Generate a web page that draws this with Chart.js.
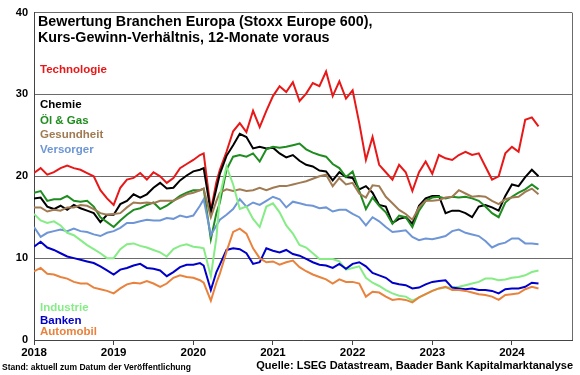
<!DOCTYPE html>
<html lang="de">
<head>
<meta charset="utf-8">
<title>Bewertung Branchen Europa</title>
<script src="https://cdn.jsdelivr.net/npm/chart.js@4.4.1/dist/chart.umd.min.js"></script>
<style>
html, body { margin: 0; padding: 0; background: #fff; }
canvas { display: block; }
</style>
</head>
<body>
<canvas id="kgvChart" width="580" height="375"></canvas>
<script>
// KGV 12 Monate voraus, Stoxx Europe 600 Branchen - Monatswerte, Corona-Einbruch etwas feiner
const dates = [];
for (let m = 0; m <= 76; m++) dates.push(2018 + m / 12);
dates.splice(26, 2, 2020.13, 2020.22, 2020.29);

const technologie = [20.4, 21.0, 20.2, 20.5, 21.0, 21.3, 21.0, 20.8, 20.4, 20.0, 18.3, 17.3, 16.5,
    18.6, 19.6, 19.8, 20.4, 19.6, 20.5, 20.0, 19.2, 19.8, 21.0, 21.5, 22.0, 22.6,
    22.8, 15.8, 19.3,
    20.8, 23.0, 25.5, 26.5, 25.4, 28.0, 26.0, 28.0, 29.8,
    31.0, 30.3, 31.5, 29.2, 30.1, 31.4, 31.0, 32.8, 29.8, 31.6, 29.5, 30.5,
    26.5, 22.0, 24.8, 21.4, 20.5, 19.6, 21.4, 20.5, 18.2, 20.5, 21.8, 20.3,
    22.6, 22.2, 22.0, 22.6, 23.0, 22.6, 22.8, 21.2, 19.6, 20.0, 22.8, 23.6, 23.0, 26.9, 27.2, 26.1];

const chemie = [17.3, 17.4, 16.3, 16.0, 16.4, 15.9, 16.5, 16.1, 15.8, 15.5, 14.4, 15.3, 15.3,
    16.6, 17.0, 17.8, 17.4, 17.8, 18.6, 19.2, 18.5, 18.6, 19.5, 20.1, 20.6, 20.8,
    21.0, 15.6, 18.5,
    20.3, 22.5, 23.8, 25.2, 24.8, 23.4, 23.6, 23.4, 23.5,
    22.8, 22.3, 22.6, 21.9, 21.4, 21.2, 20.7, 20.6, 19.5, 20.5, 19.9, 19.8,
    18.4, 18.8, 18.0, 16.5, 16.3, 14.3, 14.8, 15.0, 14.2, 16.4, 17.3, 17.6,
    17.6, 15.5, 15.8, 15.8, 15.5, 15.0, 16.3, 16.5, 16.2, 15.8, 17.6, 19.0, 18.8, 19.9, 20.8, 20.0];

const oelGas = [18.0, 18.2, 17.0, 17.2, 17.2, 17.6, 17.0, 16.9, 17.0, 16.3, 15.0, 14.4, 13.8,
    14.6, 15.3, 15.9, 16.1, 16.5, 16.8, 16.0, 16.4, 17.0, 17.6, 18.0, 18.3, 18.3,
    18.5, 12.3, 15.5,
    16.8, 20.8, 22.4, 22.6, 22.4, 22.8, 21.8, 23.3, 23.6,
    23.5, 23.6, 23.8, 24.0, 23.3, 22.9, 22.6, 22.4, 21.5, 21.0, 19.9, 20.6,
    18.2, 16.0, 17.4, 16.4, 15.6, 14.2, 15.2, 15.0, 13.8, 15.8, 17.0, 17.4,
    17.5, 17.3, 17.5, 17.4, 17.5, 17.3, 17.0, 16.3, 15.5, 15.0, 16.8, 17.5, 18.0, 18.4, 19.0, 18.4];

const gesundheit = [16.2, 16.2, 15.7, 15.9, 15.8, 16.2, 16.2, 16.5, 16.4, 16.0, 15.5, 15.3, 15.4,
    15.5, 16.2, 16.8, 16.7, 16.8, 16.7, 17.0, 17.0, 17.0, 17.4, 17.8, 18.0, 18.3,
    18.5, 15.0, 17.0,
    18.0, 18.4, 18.2, 18.4, 18.2, 18.3, 18.6, 18.3, 18.6,
    18.8, 18.8, 19.0, 19.2, 19.4, 19.7, 20.0, 20.2, 18.8, 19.8, 19.0, 19.2,
    17.9, 17.4, 18.9, 18.8, 17.5, 16.7, 15.9, 15.4, 14.7, 16.2, 17.0, 17.0,
    17.1, 17.4, 17.5, 18.3, 17.9, 17.5, 17.6, 17.5, 17.0, 16.6, 17.2, 17.4, 17.5, 18.1, 18.5, 17.8];

const versorger = [13.8, 12.6, 13.1, 13.3, 13.5, 13.3, 13.6, 13.3, 13.2, 12.9, 12.7, 13.1, 13.3,
    13.7, 14.3, 14.3, 14.5, 14.7, 14.6, 14.6, 14.9, 14.8, 15.2, 15.0, 15.2, 16.4,
    17.2, 12.8, 14.0,
    14.7, 15.3, 16.0, 17.2, 16.3, 16.8, 16.5, 17.0, 17.5,
    17.2, 16.2, 16.9, 16.7, 16.5, 16.4, 16.1, 16.2, 15.7, 15.9, 15.9, 15.4,
    15.0, 14.0, 15.0, 14.5, 13.8, 13.2, 13.3, 13.4, 12.6, 12.2, 12.4, 12.3,
    12.5, 12.7, 13.3, 13.5, 13.1, 12.9, 12.7, 12.1, 11.3, 11.7, 11.9, 12.4, 12.4, 11.8, 11.8, 11.7];

const industrie = [15.4, 14.6, 14.3, 14.5, 14.0, 13.1, 12.8, 12.2, 11.6, 11.1, 10.6, 10.0, 10.0,
    11.1, 11.7, 11.8, 11.5, 11.3, 11.0, 10.7, 10.2, 11.1, 11.5, 11.7, 11.4, 11.3,
    11.2, 7.8, 12.5,
    17.6, 21.2, 19.0, 16.0, 16.3, 14.8, 13.8, 16.3, 16.7,
    15.6, 14.0, 13.0, 11.6, 11.3, 10.6, 9.9, 9.9, 9.9, 9.6, 8.6, 8.8,
    9.0, 7.6, 7.0, 6.6, 6.1, 5.7, 5.4, 5.3, 4.8, 5.2, 5.6, 6.0,
    6.3, 6.4, 6.4, 6.5, 6.7, 6.9, 7.1, 7.5, 7.5, 7.3, 7.4, 7.6, 7.7, 7.9, 8.3, 8.5];

const banken = [11.4, 12.0, 11.3, 11.0, 10.6, 10.2, 10.0, 9.8, 9.6, 9.4, 9.0, 8.5, 8.0,
    8.6, 8.8, 9.1, 9.3, 8.8, 8.7, 8.5, 7.8, 8.3, 8.9, 9.2, 9.2, 9.4,
    9.1, 6.1, 8.3,
    9.2, 11.0, 11.2, 11.1, 10.6, 9.3, 9.5, 11.2, 10.9,
    10.7, 11.0, 10.5, 10.3, 9.9, 9.5, 9.2, 9.1, 8.8, 9.3, 8.7, 9.3,
    9.5, 9.0, 8.2, 7.9, 7.6, 7.0, 6.8, 6.7, 6.3, 6.4, 6.8, 7.1,
    7.2, 7.3, 6.4, 6.3, 6.2, 6.3, 6.1, 6.1, 6.0, 5.7, 6.2, 6.3, 6.3, 6.5, 7.0, 6.9];

const automobil = [8.4, 8.8, 8.1, 8.0, 7.7, 7.5, 7.1, 6.9, 6.9, 6.4, 6.2, 6.0, 5.7,
    6.3, 6.8, 7.0, 6.9, 7.2, 6.9, 6.5, 6.9, 7.6, 7.9, 7.7, 7.6, 7.3,
    7.0, 4.8, 7.0,
    8.1, 10.8, 13.2, 13.6, 13.0, 11.2, 10.0, 9.5, 9.6,
    9.2, 9.5, 9.7, 8.9, 8.4, 8.0, 7.7, 7.4, 6.9, 7.4, 7.1, 7.1,
    6.9, 5.3, 5.9, 5.8, 5.3, 4.9, 5.0, 4.9, 4.6, 5.2, 5.6, 6.0,
    6.3, 6.5, 6.1, 6.1, 6.0, 5.8, 5.6, 5.5, 5.3, 4.9, 5.5, 5.6, 5.7, 6.2, 6.5, 6.3];

const yearTicks = [2018, 2019, 2020, 2021, 2022, 2023, 2024];
const valueTicks = [0, 10, 20, 30, 40];

const titel = ['Bewertung Branchen Europa (Stoxx Europe 600),', 'Kurs-Gewinn-Verhältnis, 12-Monate voraus'];
const stand = 'Stand: aktuell zum Datum der Veröffentlichung';
const quelle = 'Quelle: LSEG Datastream, Baader Bank Kapitalmarktanalyse';

const schrift = "'Liberation Sans', Arial, sans-serif";
const gitter = '#6b6b6b';

// Reihenfolge = Zeichenreihenfolge
const reihen = [
    { label: 'Automobil', data: automobil, color: '#e8823c', textY: 332 },
    { label: 'Banken', data: banken, color: '#0000c8', textY: 320.5 },
    { label: 'Industrie', data: industrie, color: '#86ec86', textY: 308 },
    { label: 'Versorger', data: versorger, color: '#6e96d6', textY: 150 },
    { label: 'Gesundheit', data: gesundheit, color: '#a07a52', textY: 135 },
    { label: 'Öl & Gas', data: oelGas, color: '#1f8c1f', textY: 121 },
    { label: 'Chemie', data: chemie, color: '#000000', textY: 105 },
    { label: 'Technologie', data: technologie, color: '#e81818', textY: 70 }
];

const textPlugin = {
    id: 'texte',
    afterDraw(chart) {
        const ctx = chart.ctx;
        const a = chart.chartArea;
        ctx.save();
        // Rahmen rechts
        ctx.strokeStyle = gitter;
        ctx.lineWidth = 1;
        ctx.beginPath();
        ctx.moveTo(Math.round(a.right) + 0.5, a.top);
        ctx.lineTo(Math.round(a.right) + 0.5, a.bottom);
        ctx.stroke();

        ctx.textBaseline = 'middle';
        ctx.textAlign = 'left';
        ctx.fillStyle = '#000';
        ctx.font = 'bold 14.3px ' + schrift;
        ctx.fillText(titel[0], 38, 22);
        ctx.fillText(titel[1], 38, 38);

        ctx.font = 'bold 11.5px ' + schrift;
        reihen.forEach(r => {
            ctx.fillStyle = r.color;
            ctx.fillText(r.label, 40, r.textY);
        });

        ctx.fillStyle = '#000';
        ctx.font = 'bold 8.5px ' + schrift;
        ctx.fillText(stand, 2, 368);
        ctx.textAlign = 'right';
        ctx.font = 'bold 11px ' + schrift;
        ctx.fillText(quelle, 573, 366);
        ctx.restore();
    }
};

document.addEventListener('DOMContentLoaded', () => {
    const ctx = document.getElementById('kgvChart').getContext('2d');
    new Chart(ctx, {
        type: 'line',
        data: {
            datasets: reihen.map(r => ({
                label: r.label,
                data: r.data.map((v, i) => ({ x: dates[i], y: v })),
                borderColor: r.color,
                backgroundColor: r.color,
                borderWidth: 2,
                pointRadius: 0,
                tension: 0,
                fill: false
            }))
        },
        options: {
            responsive: false,
            animation: false,
            devicePixelRatio: 1,
            layout: { padding: { top: 10, right: 8, left: 0, bottom: 0 } },
            plugins: {
                legend: { display: false },
                title: { display: false },
                tooltip: { enabled: false }
            },
            scales: {
                x: {
                    type: 'linear',
                    min: 2018,
                    max: 2024.754,
                    afterBuildTicks: s => { s.ticks = yearTicks.map(v => ({ value: v })); },
                    afterFit: s => { s.height = 35; },
                    grid: { drawOnChartArea: false, drawTicks: true, tickLength: 5, color: '#444' },
                    border: { display: true, color: '#444' },
                    ticks: {
                        autoSkip: false,
                        maxRotation: 0,
                        padding: 1,
                        color: '#000',
                        font: { family: schrift, size: 11.5, weight: 'bold' },
                        callback: v => String(v)
                    }
                },
                y: {
                    min: 0,
                    max: 40,
                    afterBuildTicks: s => { s.ticks = valueTicks.map(v => ({ value: v })); },
                    afterFit: s => { s.width = 34; },
                    grid: { drawTicks: false, color: gitter },
                    border: { display: true, color: '#444' },
                    ticks: {
                        padding: 6,
                        color: '#000',
                        font: { family: schrift, size: 11, weight: 'bold' }
                    }
                }
            }
        },
        plugins: [textPlugin]
    });
});
</script>
</body>
</html>
